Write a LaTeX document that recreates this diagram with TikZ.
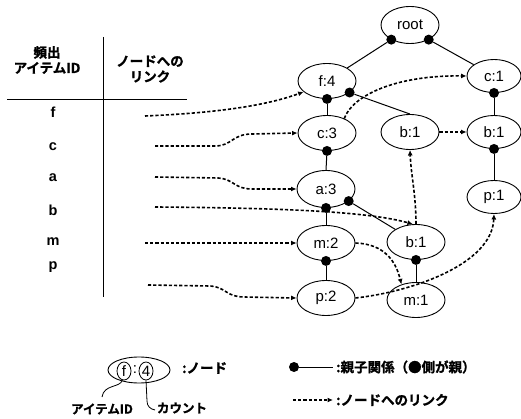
\documentclass[tikz,border=0pt]{standalone}
\usepackage{fontspec}
\setmainfont{Liberation Sans}
\newfontfamily\jp{Noto Sans CJK JP Bold}[FakeBold=1.2]
\usetikzlibrary{shapes.geometric,arrows.meta}
\begin{document}
\begin{tikzpicture}[x=1pt,y=-1pt,
  tnode/.style={ellipse,draw,line width=0.9pt,minimum width=58pt,minimum height=35pt,inner sep=0pt,font=\fontsize{15}{17}\selectfont},
  tnarrow/.style={tnode,minimum width=54pt,minimum height=33pt},
  dot/.style={circle,fill=black,inner sep=0pt,minimum size=10pt},
  tree/.style={line width=1pt},
  link/.style={line width=1.6pt,dash pattern=on 3.2pt off 2pt,-{Latex[length=5.5pt,width=5pt]}},
  rowlbl/.style={font=\fontsize{14.5}{16}\selectfont\bfseries},
  jph/.style={font=\fontsize{13.5}{15.5}\selectfont\jp,align=center},
  jpl/.style={font=\fontsize{13.5}{15.5}\selectfont\jp,anchor=west,inner sep=0pt},
  small/.style={ellipse,draw,line width=0.8pt,inner sep=0pt,minimum width=14pt,minimum height=18pt,font=\fontsize{15}{17}\selectfont}
]
\useasboundingbox (0,0) rectangle (521,419);

% ---------- table ----------
\node[jph] (h1) at (47,60) {頻出\\アイテムID};
\node[jph] (h2) at (150,69) {ノードへの\\リンク};
\coordinate (vt) at (103,37);
\coordinate (vb) at (103,297);
\coordinate (hl) at (7,100);
\coordinate (hr) at (187,100);
\draw[line width=1pt] (vt) -- (vb);
\draw[line width=1pt] (hl) -- (hr);

\node[rowlbl] (lf) at (53,112) {f};
\node[rowlbl] (lc) at (53,147) {c};
\node[rowlbl] (la) at (53,178) {a};
\node[rowlbl] (lb) at (53,210) {b};
\node[rowlbl] (lm) at (53,242) {m};
\node[rowlbl] (lp) at (53,267) {p};

\coordinate (rf) at (145,116);
\coordinate (rc) at (155,146);
\coordinate (ra) at (155,177);
\coordinate (rb) at (155,207);
\coordinate (rm) at (145,243);
\coordinate (rp) at (148,285);

% ---------- tree nodes ----------
\node[tnode,minimum height=37pt] (root) at (410,25) {root};
\node[tnode] (f4) at (327,81) {f:4};
\node[tnarrow] (c1) at (494,76) {c:1};
\node[tnode] (c3) at (327,133) {c:3};
\node[tnode] (b1m) at (410,132) {b:1};
\node[tnarrow] (b1r) at (494,132) {b:1};
\node[tnode,minimum height=37pt] (a3) at (326,189) {a:3};
\node[tnarrow] (p1) at (494,197) {p:1};
\node[tnode] (m2) at (326,243) {m:2};
\node[tnode] (b1l) at (416,242) {b:1};
\node[tnode] (p2) at (326,298) {p:2};
\node[tnode] (m1) at (416,300) {m:1};

% ---------- parent dots ----------
\node[dot] (drl) at (root.-142) {};
\node[dot] (drr) at (root.-38) {};
\node[dot] (df4s) at (f4.south) {};
\node[dot] (df4r) at (f4.-27) {};
\node[dot] (dc1) at (c1.south) {};
\node[dot] (dc3) at (c3.south) {};
\node[dot] (db1r) at (b1r.south) {};
\node[dot] (da3s) at (a3.south) {};
\node[dot] (da3r) at (a3.-28) {};
\node[dot] (dm2) at (m2.south) {};
\node[dot] (db1l) at (b1l.south) {};

% ---------- tree edges ----------
\draw[tree] (drl) -- (f4);
\draw[tree] (drr) -- (c1);
\draw[tree] (df4s) -- (c3.north);
\draw[tree] (df4r) -- (b1m.north);
\draw[tree] (dc1) -- (b1r.north);
\draw[tree] (dc3) -- (a3.north);
\draw[tree] (db1r) -- (p1.north);
\draw[tree] (da3s) -- (m2.north);
\draw[tree] (da3r) -- (b1l);
\draw[tree] (dm2) -- (p2.north);
\draw[tree] (db1l) -- (m1.north);

% ---------- node links ----------
\draw[link] (rf) .. controls (215,113) and (265,106) .. (f4.205);
\draw[link] (rc) -- (215,146) .. controls (232,146) and (232,134) .. (252,134) -- (c3.west);
\draw[link] (ra) -- (218,178) .. controls (234,179) and (234,189) .. (252,189) -- (a3.west);
\draw[link] (rb) .. controls (290,208) and (370,212) .. (b1l.100);
\draw[link] (rm) -- (m2.west);
\draw[link] (rp) -- (210,286) .. controls (226,287) and (226,297) .. (244,297) -- (p2.west);
\draw[link] (c3.40) .. controls (352,96) and (395,75) .. (c1.west);
\draw[link] (b1m.east) -- (b1r.west);
\draw[link] (b1l.north) .. controls (416,195) and (411,175) .. (b1m.south);
\draw[link] (m2.east) .. controls (385,244) and (396,262) .. (m1.133);
\draw[link] (p2.east) .. controls (410,292) and (492,265) .. (p1.south);

% ---------- legend ----------
\node[ellipse,draw,line width=0.9pt,minimum width=62pt,minimum height=26pt,inner sep=0pt] (lgE) at (139,370) {};
\node[small] (lgf) at (124,371) {f};
\node[font=\fontsize{15}{17}\selectfont,inner sep=0pt] (lgc) at (135,370) {:};
\node[small] (lg4) at (146,371) {4};
\node[font=\fontsize{12.5}{14}\selectfont\jp] (lgid) at (102,409) {アイテムID};
\node[font=\fontsize{12.5}{14}\selectfont\jp] (lgcnt) at (182,408) {カウント};
\draw[line width=0.8pt] (lgf.-100) .. controls (120,388) and (104,384) .. (102,397);
\draw[line width=0.8pt] (lg4.south) -- (147,401) .. controls (147,406) and (150,409) .. (155,410);
\node[jpl] (lgnode) at (182,368) {:ノード};

\node[dot] (lgdot) at (294,367) {};
\coordinate (lgline) at (333,367);
\draw[tree] (lgdot) -- (lgline);
\node[jpl] (lgpar) at (336,367) {:親子関係（●側が親）};
\coordinate (lgas) at (293,400);
\coordinate (lgae) at (333,400);
\draw[link] (lgas) -- (lgae);
\node[jpl] (lglink) at (336,400) {:ノードへのリンク};
\end{tikzpicture}
\end{document}
